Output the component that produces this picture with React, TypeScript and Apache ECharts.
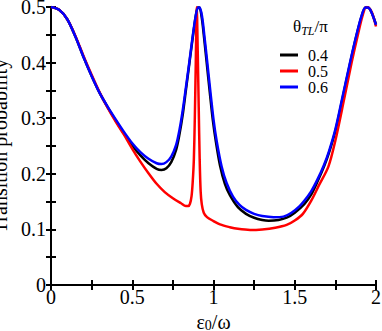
import React, { useEffect, useRef } from "react";
import * as echarts from "echarts";

const legendNames = ["0.4", "0.5", "0.6"];
const lineColors = ["#000000", "#ff0000", "#0000ff"];

const curve04: number[][] = [
  [0, 0.5], [0.05, 0.495], [0.1, 0.478], [0.15, 0.447], [0.2, 0.41], [0.25, 0.376],
  [0.3, 0.345], [0.35, 0.319], [0.4, 0.295], [0.45, 0.272], [0.5, 0.251], [0.55, 0.233],
  [0.6, 0.219], [0.65, 0.209], [0.68, 0.207], [0.71, 0.21], [0.74, 0.221], [0.77, 0.243],
  [0.79, 0.27], [0.81, 0.305], [0.83, 0.35], [0.85, 0.395], [0.87, 0.44], [0.89, 0.482],
  [0.903, 0.499], [0.913, 0.499], [0.928, 0.48], [0.942, 0.445], [0.957, 0.403],
  [0.977, 0.347], [0.996, 0.296], [1.015, 0.257], [1.04, 0.215], [1.07, 0.182],
  [1.1, 0.162], [1.15, 0.14], [1.2, 0.128], [1.25, 0.121], [1.3, 0.117], [1.34, 0.1157],
  [1.4, 0.117], [1.45, 0.121], [1.5, 0.13], [1.56, 0.146], [1.6, 0.162], [1.64, 0.186],
  [1.68, 0.213], [1.71, 0.237], [1.75, 0.277], [1.79, 0.33], [1.84, 0.398], [1.88, 0.449],
  [1.91, 0.482], [1.935, 0.499], [1.95, 0.499], [1.97, 0.492], [2.0, 0.469],
];

const curve05: number[][] = [
  [0, 0.5], [0.05, 0.495], [0.1, 0.478], [0.15, 0.448], [0.2, 0.412], [0.25, 0.378],
  [0.3, 0.346], [0.35, 0.318], [0.4, 0.293], [0.45, 0.27], [0.5, 0.245], [0.55, 0.222],
  [0.6, 0.201], [0.65, 0.182], [0.7, 0.167], [0.75, 0.156], [0.8, 0.147], [0.83, 0.142],
  [0.845, 0.142], [0.855, 0.146], [0.865, 0.16], [0.872, 0.185], [0.879, 0.225],
  [0.885, 0.3], [0.891, 0.4], [0.897, 0.5], [0.903, 0.42], [0.909, 0.32], [0.915, 0.225],
  [0.921, 0.168], [0.928, 0.145], [0.94, 0.13], [0.96, 0.122], [1.0, 0.115], [1.04, 0.109],
  [1.1, 0.104], [1.15, 0.101], [1.225, 0.099], [1.3, 0.1], [1.38, 0.103], [1.45, 0.108],
  [1.5, 0.116], [1.55, 0.128], [1.604, 0.153], [1.65, 0.18], [1.707, 0.213], [1.75, 0.26],
  [1.803, 0.333], [1.85, 0.4], [1.89, 0.452], [1.92, 0.487], [1.94, 0.5], [1.955, 0.499],
  [1.975, 0.49], [2.0, 0.465],
];

const curve06: number[][] = [
  [0, 0.5], [0.05, 0.495], [0.1, 0.478], [0.15, 0.447], [0.2, 0.41], [0.25, 0.376],
  [0.3, 0.345], [0.35, 0.32], [0.4, 0.297], [0.45, 0.275], [0.5, 0.255], [0.55, 0.239],
  [0.6, 0.227], [0.65, 0.219], [0.68, 0.2175], [0.71, 0.221], [0.74, 0.231], [0.77, 0.252],
  [0.79, 0.278], [0.81, 0.313], [0.83, 0.355], [0.85, 0.398], [0.87, 0.443], [0.89, 0.483],
  [0.905, 0.499], [0.915, 0.499], [0.93, 0.482], [0.945, 0.445], [0.96, 0.405],
  [0.98, 0.35], [1.0, 0.298], [1.02, 0.258], [1.05, 0.213], [1.08, 0.184], [1.12, 0.159],
  [1.16, 0.144], [1.2, 0.135], [1.25, 0.128], [1.3, 0.124], [1.37, 0.122], [1.43, 0.123],
  [1.48, 0.13], [1.53, 0.142], [1.56, 0.152], [1.6, 0.168], [1.64, 0.19], [1.68, 0.216],
  [1.71, 0.24], [1.75, 0.28], [1.79, 0.333], [1.84, 0.4], [1.88, 0.45], [1.91, 0.483],
  [1.935, 0.499], [1.95, 0.499], [1.97, 0.492], [2.0, 0.468],
];

const curves = [curve04, curve05, curve06];

const FONT = "Liberation Serif";

const fontCss = "#chart-box svg text, #chart-box svg tspan { font-family: 'Liberation Serif', serif !important; }";

export default function App() {
  const ref = useRef<HTMLDivElement>(null);
  useEffect(() => {
    if (!ref.current) return;
    const chart = echarts.init(ref.current, undefined, { renderer: "svg" });
    const axisLine = { show: true, lineStyle: { color: "#000", width: 2 } };
    const axisTick = { show: true, inside: true, length: 5, lineStyle: { color: "#000", width: 2 } };
    const minorTick = { show: true, splitNumber: 2, length: 5, lineStyle: { color: "#000", width: 2 } };
    chart.setOption({
      animation: false,
      textStyle: { fontFamily: FONT },
      grid: { left: 51, right: 6, top: 7, bottom: 46, containLabel: false, outerBoundsMode: "none" },
      xAxis: [
        {
          type: "value", min: 0, max: 2, interval: 0.5, position: "bottom",
          axisLine, axisTick, minorTick, splitLine: { show: false },
          axisLabel: { color: "#000", fontFamily: FONT, fontSize: 20, margin: 2 },
          name: "{a|ε}{s|0}{a|/ω}",
          nameLocation: "middle",
          nameGap: 20,
          nameTextStyle: {
            fontFamily: FONT,
            fontSize: 20,
            color: "#000",
            rich: {
              a: { fontFamily: FONT, fontSize: 20, color: "#000", lineHeight: 22 },
              s: { fontFamily: FONT, fontSize: 14, color: "#000", lineHeight: 12, verticalAlign: "bottom" },
            },
          },
        },
        {
          type: "value", min: 0, max: 2, interval: 0.5, position: "top",
          axisLine, axisTick, minorTick, splitLine: { show: false }, axisLabel: { show: false },
        },
      ],
      yAxis: [
        {
          type: "value", min: 0, max: 0.5, interval: 0.1, position: "left",
          axisLine, axisTick, minorTick, splitLine: { show: false },
          axisLabel: { color: "#000", fontFamily: FONT, fontSize: 20, margin: 5 },
          name: "Transition probability",
          nameLocation: "middle",
          nameGap: 28,
          nameTextStyle: { color: "#000", fontFamily: FONT, fontSize: 20 },
        },
        {
          type: "value", min: 0, max: 0.5, interval: 0.1, position: "right",
          axisLine, axisTick, minorTick, splitLine: { show: false }, axisLabel: { show: false },
        },
      ],
      legend: {
        data: legendNames,
        orient: "vertical",
        left: 275,
        top: 42,
        icon: "rect",
        itemWidth: 18,
        itemHeight: 3,
        itemGap: 0,
        textStyle: { color: "#000", fontFamily: FONT, fontSize: 16, lineHeight: 16, padding: [0, 0, 0, 5] },
      },
      graphic: [
        {
          type: "text",
          left: 293,
          top: 18,
          style: {
            text: "{t|θ}{s|TL}{t|/π}",
            fontFamily: FONT,
            fontSize: 17,
            fill: "#000",
            rich: {
              t: { fontFamily: FONT, fontSize: 17, fill: "#000", lineHeight: 20 },
              s: { fontFamily: FONT, fontSize: 12, fontStyle: "italic", fill: "#000", lineHeight: 12, verticalAlign: "bottom" },
            },
          },
        },
      ],
      series: legendNames.map((name, i) => ({
        name,
        type: "line",
        data: curves[i],
        showSymbol: false,
        symbol: "none",
        smooth: 0.3,
        lineStyle: { color: lineColors[i], width: 2.5 },
        itemStyle: { color: lineColors[i] },
      })),
    });
    return () => chart.dispose();
  }, []);
  return (
    <>
      <style>{fontCss}</style>
      <div
        id="chart-box"
        ref={ref}
        style={{ position: "fixed", left: 0, top: 0, width: 382, height: 331, background: "#fff" }}
      />
    </>
  );
}
